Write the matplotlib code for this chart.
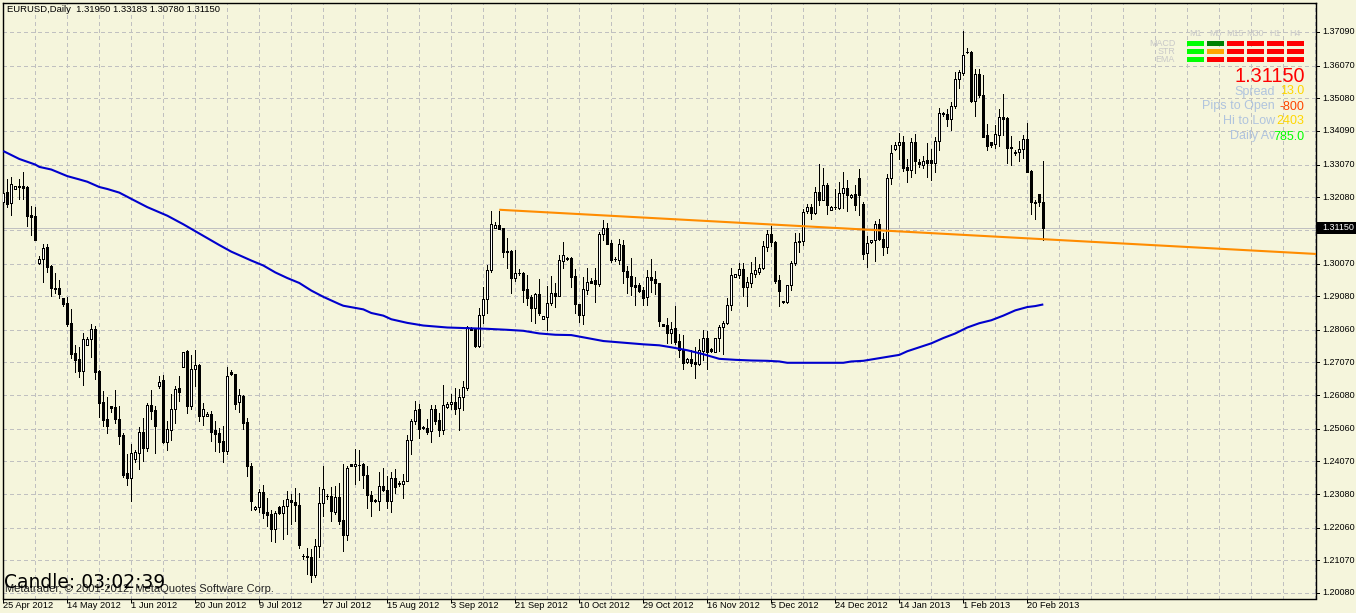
import matplotlib
matplotlib.use("Agg")
import matplotlib.pyplot as plt
from matplotlib.patches import Rectangle
from matplotlib.ticker import FixedLocator, NullFormatter
import numpy as np

# Daily OHLC in units of 0.0001 (EURUSD)
opens = [13194,13223,13191,13233,13243,13241,13238,13153,13150,13009,
13021,13056,12999,12932,12932,12902,12887,12826,12735,12717,
12682,12761,12777,12808,12681,12587,12535,12574,12572,12537,
12487,12371,12358,12414,12431,12495,12448,12578,12563,12635,
12653,12467,12503,12565,12629,12694,12741,12576,12686,12699,
12545,12546,12550,12502,12493,12469,12440,12679,12672,12586,
12606,12526,12394,12263,12268,12314,12254,12246,12201,12270,
12250,12271,12289,12284,12276,12120,12120,12118,12062,12150,
12280,12302,12303,12255,12300,12230,12183,12399,12392,12397,
12400,12367,12306,12290,12286,12333,12321,12286,12358,12340,
12337,12347,12471,12528,12566,12511,12509,12498,12566,12533,
12503,12572,12580,12588,12568,12602,12631,12811,12809,12758,
12850,12899,12986,13116,13124,13115,13045,13045,12964,12978,
12978,12930,12906,12872,12915,12840,12846,12886,12918,12907,
13016,13023,13024,12969,12885,12852,12927,12955,12957,12945,
13095,13115,13068,13022,13018,13063,12985,12969,12941,12942,
12927,12904,12966,12960,12948,12823,12821,12795,12812,12772,
12746,12709,12718,12709,12701,12743,12782,12748,12740,12780,
12814,12826,12881,12967,12971,12991,12937,12949,12976,12980,
12993,13057,13097,13073,12957,12894,12889,12941,13008,13076,
13074,13166,13179,13159,13224,13201,13246,13170,13178,13176,
13220,13237,13208,13219,13266,13188,13038,13071,13077,13127,
13082,13056,13265,13355,13365,13376,13300,13290,13375,13316,
13307,13321,13322,13311,13377,13462,13461,13444,13484,13566,
13586,13649,13648,13501,13581,13518,13397,13375,13368,13398,
13451,13448,13361,13344,13344,13354,13384,13288,13195,13219,
13195]
closes = [13221,13187,13249,13243,13239,13237,13151,13148,13079,13022,
13055,12997,12932,12929,12915,12885,12824,12733,12714,12681,
12777,12777,12807,12679,12585,12532,12514,12570,12536,12485,
12367,12357,12432,12434,12495,12448,12578,12561,12515,12649,
12466,12504,12565,12628,12618,12740,12576,12687,12698,12545,
12565,12552,12497,12491,12467,12439,12665,12671,12582,12608,
12524,12392,12288,12269,12314,12250,12244,12201,12251,12250,
12273,12293,12283,12274,12155,12119,12116,12062,12151,12282,
12323,12301,12256,12300,12227,12183,12387,12392,12398,12396,
12365,12304,12286,12286,12333,12320,12286,12357,12330,12339,
12348,12473,12529,12563,12506,12507,12495,12566,12531,12503,
12578,12581,12588,12567,12602,12632,12814,12805,12757,12850,
12899,12987,13126,13123,13112,13042,13043,12963,12977,12977,
12927,12903,12872,12915,12858,12847,12887,12917,12907,13017,
13032,13022,12966,12883,12852,12929,12950,12949,12945,13097,
13115,13066,13019,13021,13066,12983,12967,12939,12937,12925,
12903,12965,12957,12947,12834,12819,12795,12808,12769,12744,
12706,12718,12706,12701,12744,12782,12739,12741,12782,12815,
12826,12881,12971,12974,12990,12937,12950,12978,12988,12994,
13060,13095,13071,12955,12923,12890,12943,13009,13072,13071,
13163,13178,13159,13224,13201,13245,13183,13179,13177,13221,
13236,13214,13215,13183,13214,13035,13069,13078,13127,13080,
13056,13266,13342,13366,13375,13296,13290,13375,13317,13308,
13319,13311,13311,13379,13463,13461,13444,13486,13568,13588,
13639,13648,13501,13581,13517,13392,13362,13367,13400,13451,
13446,13356,13356,13343,13354,13384,13286,13193,13192,13194,
13115]
highs = [13234,13262,13268,13243,13262,13283,13241,13181,13177,13031,
13065,13065,13004,12977,12956,12902,12906,12868,12760,12755,
12795,12783,12823,12817,12684,12620,12603,12574,12625,12575,
12492,12429,12460,12443,12510,12540,12585,12625,12575,12666,
12669,12529,12610,12637,12666,12740,12746,12729,12744,12701,
12585,12557,12560,12529,12507,12514,12692,12683,12672,12626,
12608,12538,12402,12273,12323,12336,12296,12261,12256,12273,
12289,12318,12309,12326,12311,12127,12145,12140,12172,12329,
12392,12309,12329,12333,12340,12400,12394,12399,12446,12442,
12402,12394,12316,12293,12376,12387,12362,12374,12384,12347,
12370,12488,12537,12591,12580,12515,12535,12579,12577,12554,
12639,12588,12612,12629,12626,12652,12818,12816,12811,12872,
12935,13001,13166,13133,13166,13116,13084,13048,13048,12990,
12980,12972,12912,12917,12959,12847,12939,12969,12947,13033,
13072,13028,13028,12990,12885,12965,12993,12962,12993,13104,
13139,13129,13078,13028,13081,13078,12998,13023,12967,12947,
12937,12986,13021,12983,12949,12823,12841,12831,12879,12794,
12791,12722,12745,12755,12778,12804,12802,12750,12782,12820,
12834,12901,12993,12975,13010,13010,12965,13013,13026,13006,
13076,13110,13122,13074,12973,12894,12943,13014,13100,13100,
13172,13188,13188,13238,13310,13297,13251,13182,13234,13253,
13284,13259,13219,13246,13295,13193,13090,13079,13135,13142,
13100,13278,13367,13374,13403,13394,13324,13387,13400,13324,
13334,13372,13354,13392,13478,13466,13475,13497,13589,13594,
13713,13660,13650,13597,13597,13579,13430,13375,13428,13475,
13522,13451,13395,13352,13380,13397,13433,13291,13200,13219,
13318]
lows = [13172,13177,13153,13233,13204,13202,13120,13093,13078,13007,
12950,12982,12908,12919,12903,12878,12817,12720,12678,12663,
12638,12760,12724,12657,12541,12514,12494,12558,12524,12460,
12360,12336,12287,12406,12384,12408,12439,12537,12433,12630,
12464,12441,12472,12522,12590,12692,12555,12567,12635,12530,
12517,12544,12469,12438,12436,12405,12429,12668,12567,12558,
12506,12364,12259,12261,12255,12234,12212,12167,12162,12248,
12173,12187,12218,12227,12143,12111,12067,12041,12055,12116,
12241,12293,12225,12249,12218,12134,12168,12392,12339,12352,
12325,12266,12241,12285,12261,12316,12266,12255,12311,12333,
12295,12347,12430,12521,12479,12505,12490,12465,12519,12485,
12491,12570,12566,12552,12501,12562,12625,12804,12753,12754,
12828,12857,12980,13114,13111,13028,12992,12919,12955,12972,
12889,12882,12834,12828,12850,12840,12804,12882,12876,12907,
12992,13018,12937,12858,12831,12824,12915,12947,12889,12939,
13078,13066,13013,13016,13006,12949,12919,12912,12882,12920,
12882,12882,12920,12915,12819,12819,12765,12765,12763,12725,
12687,12705,12697,12661,12700,12715,12687,12739,12740,12741,
12733,12824,12866,12965,12962,12909,12879,12937,12965,12975,
12990,13044,13059,12948,12877,12886,12887,12928,13004,13041,
13064,13160,13143,13156,13185,13201,13158,13168,13172,13173,
13175,13165,13207,13170,13155,13022,12995,13069,13016,13077,
13034,13039,13247,13352,13324,13289,13255,13269,13281,13300,
13297,13268,13261,13283,13350,13453,13423,13413,13480,13540,
13579,13644,13498,13455,13512,13390,13352,13360,13356,13362,
13398,13312,13305,13337,13318,13328,13283,13158,13143,13182,
13078]

# moving average, sampled at these bars
ma_bar = [0,4,8,9,12,16,19,21,24,26,29,32,36,41,45,49,54,57,62,65,68,71,74,77,80,84,85,90,92,95,97,
          101,105,111,116,121,126,130,134,138,142,146,150,155,160,164,167,171,175,179,183,187,191,
          194,196,203,210,212,215,218,221,224,226,229,232,235,238,241,244,247,250,253,256,258,260]
ma_val = [13348,13324,13307,13300,13292,13272,13262,13255,13239,13233,13222,13203,13178,13152,13126,13098,13063,
          13043,13016,13001,12980,12963,12948,12925,12906,12884,12879,12868,12857,12849,12838,
          12827,12819,12813,12811,12809,12806,12803,12795,12791,12790,12781,12772,12767,12762,12759,12753,12744,12732,12718,12715,12713,12712,
          12710,12706,12706,12706,12710,12712,12718,12724,12730,12741,12753,12765,12781,12795,12813,12826,12835,12849,12865,12875,12878,12883]

trend_bar = [124, 328.2]
trend_val = [13170, 13036]
last_price = 13115

price_labels = ["1.37090","1.36070","1.35080","1.34090","1.33070","1.32080","1.30070","1.29080",
                "1.28060","1.27070","1.26080","1.25060","1.24070","1.23080","1.22060","1.21070","1.20080"]
date_labels = ["25 Apr 2012","14 May 2012","1 Jun 2012","20 Jun 2012","9 Jul 2012","27 Jul 2012",
               "15 Aug 2012","3 Sep 2012","21 Sep 2012","10 Oct 2012","29 Oct 2012","16 Nov 2012",
               "5 Dec 2012","24 Dec 2012","14 Jan 2013","1 Feb 2013","20 Feb 2013"]

BG = "#f5f5dc"; GRID = "#c0c0c0"
W, H = 1356, 613
PX = 0.72
UI = ["Liberation Sans", "DejaVu Sans"]

fig = plt.figure(figsize=(W/100, H/100), dpi=100, facecolor=BG)
L, R, T, B = 2.5, 1315.5, 2.5, 598.5
ax = fig.add_axes([L/W, 1-B/H, (R-L)/W, (B-T)/H], facecolor=BG)

SCALE = 3298.0
ax.set_xlim((L-3.3)/4, (R-3.3)/4)
ax.set_ylim(1.3709-(B-32)/SCALE, 1.3709+(32-T)/SCALE)

o, h, l, c = [np.array(a)/1e4 for a in (opens, highs, lows, closes)]
x = np.arange(len(o))

# grid
grid_prices = [float(s) for s in price_labels] + [1.3108]
ax.set_yticks(sorted(grid_prices))
ax.yaxis.tick_right()
ax.set_yticklabels([])
ax.xaxis.set_major_locator(FixedLocator(np.arange(0, 16*len(date_labels), 16)))
ax.xaxis.set_minor_locator(FixedLocator(np.arange(-0, 336, 8)))
ax.xaxis.set_major_formatter(NullFormatter())
ax.set_axisbelow(True)
ax.grid(False)
for xv in np.arange(0, 336, 8):
    ax.axvline(xv, color=GRID, lw=PX, ls=(0, (4, 3)), antialiased=False, zorder=1)
for yv in grid_prices:
    ax.axhline(yv, color=GRID, lw=PX, ls=(0, (4, 3)), antialiased=False, zorder=1)
ax.axhline(last_price/1e4, color=GRID, lw=PX, antialiased=False, zorder=1.5)

# candles
ax.vlines(x, l, h, color="black", lw=PX, antialiased=False, zorder=3)
up = c >= o
ax.bar(x[up], (c-o)[up], bottom=o[up], width=0.5, facecolor="white", edgecolor="black",
       lw=PX, antialiased=False, zorder=4)
ax.bar(x[~up], (c-o)[~up], bottom=o[~up], width=0.5, facecolor="black", edgecolor="black",
       lw=PX, antialiased=False, zorder=4)

# indicators
ax.plot(np.array(ma_bar), np.array(ma_val)/1e4, color="#0000cd", lw=1.5, zorder=5, solid_capstyle="butt")
ax.plot(np.array(trend_bar), np.array(trend_val)/1e4, color="#ff8c00", lw=1.5, zorder=5, solid_capstyle="butt")

for s in ax.spines.values():
    s.set_linewidth(PX*1.4)
    s.set_color("black")
ax.tick_params(axis="y", which="major", length=0)
ax.tick_params(axis="x", which="major", length=3, width=PX, color="black")
ax.tick_params(axis="x", which="minor", length=0)

def fx(px): return px/W
def fy(py): return 1-py/H

def label(px, py, s, color="black", size=6.6, ha="left", family=UI, **kw):
    fig.text(fx(px), fy(py), s, color=color, fontsize=size, ha=ha, va="center", family=family, **kw)

# right axis labels + ticks
for s in price_labels:
    p = float(s)
    py = 32 + (1.3709-p)*SCALE
    fig.add_artist(plt.Line2D([fx(R), fx(R+3)], [fy(py), fy(py)], color="black", lw=PX, antialiased=False))
    label(1322, py, s, size=6.5)

tag_y = 32 + (1.3709-last_price/1e4)*SCALE
fig.add_artist(Rectangle((fx(1317), fy(tag_y+6)), 39/W, 12/H, transform=fig.transFigure, facecolor="black", edgecolor="none"))
label(1322, tag_y, "1.31150", color="white", size=6.5)

# bottom dates
for i, s in enumerate(date_labels):
    label(3 + 64*i, 606, s, size=6.7)

# header
label(7, 10, "EURUSD,Daily  1.31950 1.33183 1.30780 1.31150", size=6.8)
# footer
label(5, 588.5, "Metatrader, \u00a9 2001-2012, MetaQuotes Software Corp.", size=8.0, color="#222222")
label(4, 582, "Candle: 03:02:39", size=13.5, family=["DejaVu Sans"])

# signal panel
tf = ["M1","M5","M15","M30","H1","H4"]
rows = ["MACD","STR","EMA"]
cols = [["#00ff00","#008000","#ff0000","#ff0000","#ff0000","#ff0000"],
        ["#00ff00","#ffa500","#ff0000","#ff0000","#ff0000","#ff0000"],
        ["#00ff00","#ff0000","#ff0000","#ff0000","#ff0000","#ff0000"]]
cx0 = [1187, 1207, 1227, 1247, 1267, 1287]
ry0 = [41, 49, 57]
for j, r in enumerate(rows):
    label(1175, ry0[j]+2.5, r, color="#c8c8c8", size=6.4, ha="right")
    for k, cc in enumerate(cols[j]):
        fig.add_artist(Rectangle((fx(cx0[k]), fy(ry0[j]+5)), 16.5/W, 5/H, transform=fig.transFigure,
                                 facecolor=cc, edgecolor="none"))
for k, t in enumerate(tf):
    label(cx0[k]+8, 33, t, color="#c8c8c8", size=6.4, ha="center")

label(1305, 76, "1.31150", color="#ff0000", size=14.3, ha="right")
info = [("Spread","13.0","#ffd700"),("Pips to Open","-800","#ff4500"),("Hi to Low","2403","#ffd700"),("Daily Av","785.0","#00ff00")]
for n, (a, b, col) in enumerate(info):
    py = 91.5 + 15*n
    label(1275, py, a, color="#b0c4de", size=9.0, ha="right")
    label(1304, py, b, color=col, size=9.0, ha="right")

fig.savefig("out.png", dpi=100, facecolor=BG)
